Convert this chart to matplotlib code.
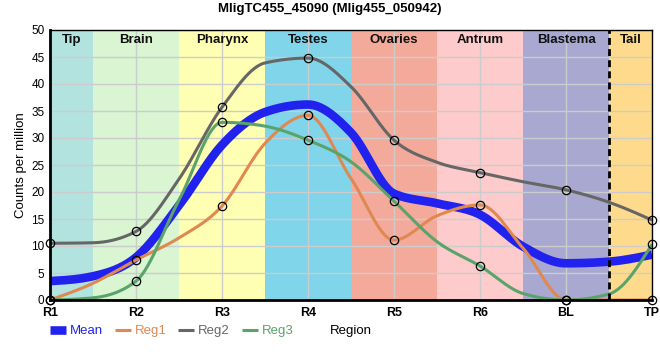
import numpy as np
import matplotlib
matplotlib.use('Agg')
from matplotlib import pyplot as plt

plt.rcParams['font.family'] = ['Liberation Sans', 'DejaVu Sans']

# data
regions = ['R1', 'R2', 'R3', 'R4', 'R5', 'R6', 'BL', 'TP']
reg1 = [0.0, 7.4, 17.4, 34.2, 11.1, 17.6, 0.0, 0.0]
reg2 = [10.5, 12.7, 35.7, 44.8, 29.6, 23.6, 20.4, 14.8]
reg3 = [0.0, 3.5, 32.9, 29.6, 18.3, 6.3, 0.0, 10.3]

# smoothed line values read at every half step between regions (R1, R1.5, R2, ...)
mean_line = [3.5, 4.4, 7.9, 17.5, 28.7, 34.8, 36.2, 31.0, 19.7, 17.9, 15.8, 9.9, 6.8, 7.1, 8.4]
reg1_line = [0.0, 3.1, 7.4, 11.5, 17.4, 29.0, 34.2, 22.5, 11.1, 15.6, 17.6, 9.6, 0.0, 0.0, 0.0]
reg2_line = [10.5, 10.6, 12.7, 22.4, 35.7, 43.9, 44.8, 39.5, 29.6, 25.5, 23.6, 21.9, 20.4, 18.1, 14.8]
reg3_line = [0.0, 0.4, 3.5, 18.5, 32.9, 32.2, 29.6, 25.6, 18.3, 10.8, 6.3, 1.2, 0.0, 1.1, 10.3]

band_names = ['Tip', 'Brain', 'Pharynx', 'Testes', 'Ovaries', 'Antrum', 'Blastema', 'Tail']
band_colors = ['#b3e3df', '#d9f5d2', '#ffffb4', '#80d5eb', '#f4aa9b', '#fdcbcb', '#a8a8d0', '#fedb8c']


def monotone_curve(x, y, n=30):
    # monotone cubic (Steffen), same idea as d3.curveMonotoneX
    x = np.asarray(x, float)
    y = np.asarray(y, float)
    h = np.diff(x)
    s = np.diff(y) / h
    m = np.zeros_like(y)
    for i in range(1, len(y) - 1):
        p = (s[i - 1] * h[i] + s[i] * h[i - 1]) / (h[i - 1] + h[i])
        m[i] = (np.sign(s[i - 1]) + np.sign(s[i])) * min(abs(s[i - 1]), abs(s[i]), 0.5 * abs(p))
    m[0] = (3 * s[0] - m[1]) / 2
    m[-1] = (3 * s[-1] - m[-2]) / 2
    xs, ys = [], []
    for i in range(len(h)):
        t = np.linspace(0, 1, n)
        h00 = 2 * t**3 - 3 * t**2 + 1
        h10 = t**3 - 2 * t**2 + t
        h01 = -2 * t**3 + 3 * t**2
        h11 = t**3 - t**2
        xs.append(x[i] + t * h[i])
        ys.append(h00 * y[i] + h10 * h[i] * m[i] + h01 * y[i + 1] + h11 * h[i] * m[i + 1])
    return np.concatenate(xs), np.concatenate(ys)


fig = plt.figure(figsize=(6.6, 3.6), dpi=100)
ax = fig.add_axes([50 / 660, 60 / 360, 602 / 660, 270 / 360])

xpos = np.arange(len(regions))
xhalf = np.arange(0, len(regions) - 0.5, 0.5)
band_edges = [0] + list(xpos[:-1] + 0.5) + [xpos[-1]]

for i, name in enumerate(band_names):
    ax.axvspan(band_edges[i], band_edges[i + 1], color=band_colors[i], lw=0, zorder=0)
    ax.text((band_edges[i] + band_edges[i + 1]) / 2, 48.2, name, ha='center', va='center',
            fontsize=9.5, fontweight='bold', color='#111111', zorder=5)

ax.grid(True, color='#cccccc', lw=1)
for gl in ax.get_xgridlines() + ax.get_ygridlines():
    gl.set_zorder(1)

series = [
    ('Mean', mean_line, None, '#2222ee', 6.2),
    ('Reg1', reg1_line, reg1, '#e08850', 2.2),
    ('Reg2', reg2_line, reg2, '#666666', 2.2),
    ('Reg3', reg3_line, reg3, '#5aa36a', 2.2),
]
handles = []
for label, line_vals, pts, col, lw in series:
    cx, cy = monotone_curve(xhalf, line_vals)
    ln, = ax.plot(cx, cy, color=col, lw=lw, label=label, zorder=3, solid_capstyle='butt')
    handles.append(ln)
for label, line_vals, pts, col, lw in series:
    if pts is not None:
        ax.plot(xpos, pts, 'o', ms=6, mfc='none', mec='black', mew=0.9, zorder=4, clip_on=False)

ax.axvline(6.5, color='black', lw=2, ls=(0, (2.5, 1.5)), zorder=4)

ax.set_xlim(0, 7)
ax.set_ylim(0, 50)
ax.set_xticks(xpos)
ax.set_xticklabels(regions, fontsize=9, fontweight='bold')
ax.set_yticks(np.arange(0, 51, 5))
ax.tick_params(axis='y', labelsize=8.5, length=0, pad=4)
ax.tick_params(axis='x', length=0, pad=5)
for sp in ax.spines.values():
    sp.set_color('black')
    sp.set_linewidth(1)
    sp.set_zorder(6)
ax.spines['left'].set_linewidth(2)
ax.spines['bottom'].set_linewidth(2)

ax.set_ylabel('Counts per million', fontsize=9.5, labelpad=3)
fig.text(351 / 660, 1 - 331 / 360, 'Region', ha='center', va='center', fontsize=9.5)
fig.suptitle('MligTC455_45090 (Mlig455_050942)', fontsize=9.5, fontweight='bold', y=1 - 9 / 360, va='center')

fig.legend(handles=handles, loc='center left', bbox_to_anchor=(50 / 660, 1 - 331 / 360),
           ncol=4, frameon=False, fontsize=9.5, labelcolor='linecolor', handlelength=1.2,
           handletextpad=0.3, columnspacing=0.9, borderpad=0, borderaxespad=0)

fig.savefig('out.png', dpi=100)
